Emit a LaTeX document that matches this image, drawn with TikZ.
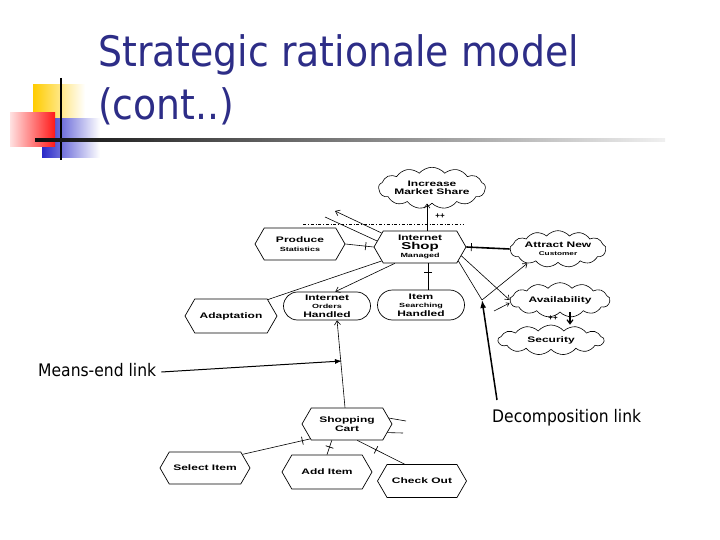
\documentclass[tikz,border=0pt]{standalone}
\usepackage{fontspec}
\setsansfont{Liberation Sans}
\newfontfamily\titlefont[FakeStretch=0.9]{DejaVu Sans}
\newfontfamily\nodefont[FakeStretch=1.5]{Liberation Sans}
\usetikzlibrary{shapes.symbols,shapes.misc,arrows.meta,decorations.markings,calc}
\definecolor{titleblue}{RGB}{45,45,135}
\definecolor{decoyellow}{RGB}{255,204,0}
\definecolor{decored}{RGB}{255,25,25}
\definecolor{decopink}{RGB}{255,225,225}
\definecolor{decoblue}{RGB}{40,40,200}
\begin{document}
\begin{tikzpicture}[x=1pt,y=-1pt,
  nf/.style={font=\nodefont\bfseries\fontsize{8}{8}\selectfont},
  task/.style={draw, line width=0.7pt, signal, signal to=east and west, signal pointer angle=120, inner sep=0pt, align=center, nf},
  soft/.style={draw, line width=0.6pt, cloud, cloud puffs=13, cloud puff arc=100, aspect=3.5, inner sep=0pt, align=center, nf},
  goal/.style={draw, line width=0.7pt, rounded rectangle, inner sep=0pt, align=center, nf},
  link/.style={line width=0.6pt},
  decomp/.style={link, postaction={decorate}, decoration={markings, mark=at position #1 with {\draw[line width=0.7pt] (0pt,-4pt) -- (0pt,4pt);}}},
  decomp/.default=-8pt,
  means/.style={link, -{Straight Barb[length=4pt,width=6pt]}},
  plus/.style={font=\sffamily\bfseries\fontsize{8}{8}\selectfont, inner sep=0pt},
  label/.style={font=\titlefont\fontsize{17.3}{17.3}\selectfont, inner sep=0pt},
]
\useasboundingbox (0,0) rectangle (720,540);
\fill[white] (0,0) rectangle (720,540);

% decoration
\shade[left color=decoyellow, middle color=decoyellow!85, right color=white] (33,85) rectangle (85,119);
\shade[left color=decoblue, middle color=decoblue!80, right color=white] (42,119) rectangle (100,158);
\shade[left color=decopink, right color=decored] (10,113) rectangle (55,147);
\draw[line width=2.5pt] (61,78) -- (61,160);
\shade[left color=black!95, right color=black!6] (35,139) rectangle (665,142);

% title
\node[anchor=base west, font=\titlefont\fontsize{42}{42}\selectfont, text=titleblue, inner sep=0pt] (t1) at (98,67) {Strategic rationale model};
\node[anchor=base west, font=\titlefont\fontsize{42}{42}\selectfont, text=titleblue, inner sep=0pt] (t2) at (98,120) {(cont..)};

% nodes
\node[soft, minimum width=100pt, minimum height=28pt] (IMS) at (432,188) {Increase\\Market Share};
\node[task, minimum width=92pt, minimum height=32pt] (ISM) at (420,247) {Internet\\[0.5pt]{\fontsize{10}{10}\selectfont Shop}\\[0.5pt]{\fontsize{6}{6}\selectfont Managed}};
\node[task, minimum width=90pt, minimum height=32pt] (PS) at (300,244) {Produce\\[0.5pt]{\fontsize{6}{6}\selectfont Statistics}};
\node[soft, minimum width=96pt, minimum height=32pt] (ANC) at (558,249) {Attract New\\[0.5pt]{\fontsize{5.5}{5.5}\selectfont Customer}};
\node[soft, minimum width=100pt, minimum height=30pt] (AV) at (560,300) {Availability};
\node[soft, minimum width=106pt, minimum height=30pt] (SEC) at (551,340) {Security};
\node[task, minimum width=92pt, minimum height=34pt] (AD) at (231,316) {Adaptation};
\node[goal, minimum width=87pt, minimum height=28pt] (IOH) at (327,306) {Internet\\[0.5pt]{\fontsize{6}{6}\selectfont Orders}\\[0.5pt]Handled};
\node[goal, minimum width=87pt, minimum height=30pt] (ISH) at (421,305) {Item\\[0.5pt]{\fontsize{6}{6}\selectfont Searching}\\[0.5pt]Handled};
\node[task, minimum width=90pt, minimum height=32pt] (SC) at (347,424) {Shopping\\[1pt]Cart};
\node[task, minimum width=90pt, minimum height=32pt] (SI) at (205,468) {Select Item};
\node[task, minimum width=90pt, minimum height=34pt] (AI) at (327,472) {Add Item};
\node[task, minimum width=89pt, minimum height=33pt] (CO) at (422,481) {Check Out};

% links
\coordinate (a1) at ([xshift=7pt]ISM.north);
\draw[means] (a1) -- (a1 |- IMS.south);
\node[plus] (pp1) at (440,216) {++};
\coordinate (dd1) at (303,224);
\coordinate (dd2) at (463,224);
\draw[link, dash dot] (dd1) -- (dd2);

\draw[decomp] (PS.east) -- (ISM.west);
\draw[decomp=-5pt, line width=1.6pt] (ANC.west) -- (ISM.east);
\coordinate (b1) at ([xshift=7pt]ISH.north);
\draw[decomp=-9pt] (b1) -- (b1 |- ISM.south);
\draw[link] (ISM.200) -- (AD.24);
\draw[means] (ISM.213) -- (IOH.60);

\coordinate (s1) at (325,217);
\coordinate (s2) at (335,211);
\draw[link] (s1) -- (ISM.172);
\draw[link, {Straight Barb[length=4pt,width=6pt]}-] (s2) -- (ISM.160);

\coordinate (j1) at (482,300);
\draw[link] (ISM.-20) -- (j1);
\draw[means] (j1) -- (ANC.205);
\draw[means] (ISM.-12) -- (AV.west);
\coordinate (s3) at (494,311);
\draw[link, -{Straight Barb[length=3pt,width=4pt]}] (s3) -- ([yshift=-3pt]AV.west);

\coordinate (c1) at ([xshift=10pt]AV.south);
\draw[means, line width=1.2pt] (c1) -- (c1 |- SEC.north);
\node[plus] (pp2) at (553,318) {++};

\draw[means] ([xshift=-2pt]SC.north) -- (IOH.-55);

\draw[decomp=-8pt] (SI.20) -- (SC.202);
\draw[decomp=-7pt] (AI.north) -- (SC.227);
\draw[decomp=-21pt] (CO.136) -- (SC.-58);
\coordinate (r1) at (406,421);
\coordinate (r2) at (403,433);
\draw[link] (SC.8) -- (r1);
\draw[link] (SC.-12) -- (r2);

% explanatory labels
\node[label, anchor=west] (mel) at (38,370) {Means-end link};
\coordinate (me) at (342,361);
\draw[line width=1pt, -{Latex[length=7pt,width=5pt]}] ([xshift=5pt,yshift=-2pt]mel.east) -- (me);
\node[label, anchor=west] (dl) at (492,418) {Decomposition link};
\coordinate (dstart) at (497,400);
\draw[line width=1.5pt, -{Latex[length=8pt,width=6pt]}] (dstart) -- (j1);
\end{tikzpicture}
\end{document}
